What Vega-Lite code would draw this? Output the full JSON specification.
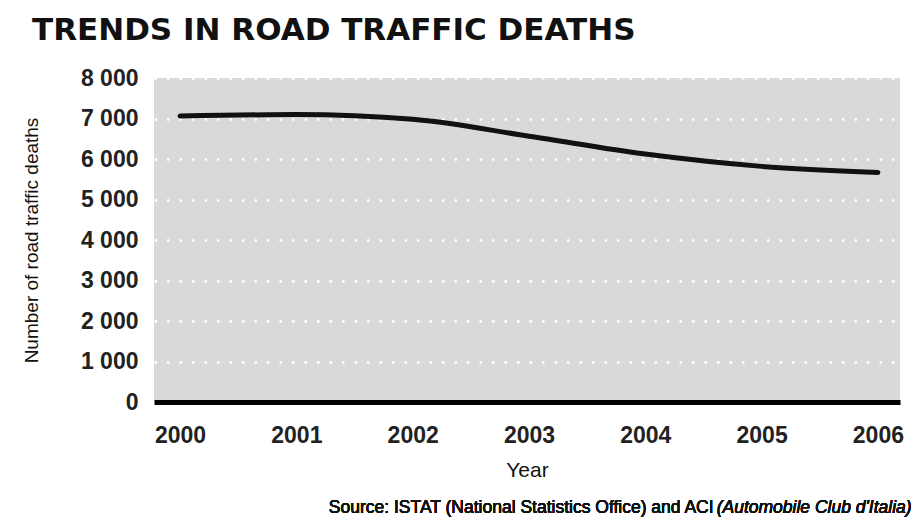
{
  "$schema": "https://vega.github.io/schema/vega-lite/v6.json",
  "width": 746,
  "height": 324,
  "autosize": {"type": "none"},
  "padding": {"left": 154, "top": 78, "right": 18, "bottom": 122},
  "background": "white",
  "title": {
    "text": "TRENDS IN ROAD TRAFFIC DEATHS",
    "anchor": "start",
    "frame": "group",
    "dx": -122,
    "offset": 20,
    "font": "DejaVu Sans",
    "fontSize": 31,
    "fontWeight": "bold",
    "color": "#111111"
  },
  "data": {
    "values": [
      {"year": 2000, "deaths": 7061},
      {"year": 2001, "deaths": 7096},
      {"year": 2002, "deaths": 6980},
      {"year": 2003, "deaths": 6563},
      {"year": 2004, "deaths": 6122},
      {"year": 2005, "deaths": 5818},
      {"year": 2006, "deaths": 5669}
    ]
  },
  "layer": [
    {
      "mark": {"type": "line", "interpolate": "monotone", "color": "#111111", "strokeWidth": 5, "strokeCap": "round"},
      "encoding": {
        "x": {
          "field": "year",
          "type": "quantitative",
          "scale": {"domain": [1999.776, 2006.19], "nice": false, "zero": false},
          "axis": {
            "values": [2000, 2001, 2002, 2003, 2004, 2005, 2006],
            "format": "d",
            "title": "Year",
            "grid": false,
            "ticks": false,
            "domain": true,
            "domainColor": "#000000",
            "domainWidth": 5,
            "labelFont": "Liberation Sans",
            "labelFontSize": 23,
            "labelFontWeight": "bold",
            "labelColor": "#222222",
            "labelPadding": 22,
            "titleFont": "Liberation Sans",
            "titleFontSize": 21,
            "titleFontWeight": "normal",
            "titleColor": "#111111",
            "titlePadding": 12
          }
        },
        "y": {
          "field": "deaths",
          "type": "quantitative",
          "scale": {"domain": [0, 8000], "nice": false},
          "axis": {
            "values": [0, 1000, 2000, 3000, 4000, 5000, 6000, 7000, 8000],
            "labelExpr": "replace(format(datum.value, ','), ',', ' ')",
            "title": "Number of road traffic deaths",
            "grid": true,
            "gridColor": "#ffffff",
            "gridWidth": 2.5,
            "gridDash": [2.5, 10],
            "gridOpacity": 1,
            "ticks": false,
            "domain": false,
            "labelFont": "Liberation Sans",
            "labelFontSize": 23,
            "labelFontWeight": "bold",
            "labelColor": "#222222",
            "labelPadding": 16,
            "titleFont": "Liberation Sans",
            "titleFontSize": 19,
            "titleFontWeight": "normal",
            "titleColor": "#111111",
            "titlePadding": 39
          }
        }
      }
    },
    {
      "mark": {"type": "text", "align": "right", "baseline": "middle", "dx": -198, "font": "Liberation Sans", "fontSize": 17.5, "color": "#111111"},
      "encoding": {
        "x": {"datum": 2006.29, "type": "quantitative"},
        "y": {"datum": -2617, "type": "quantitative"},
        "text": {"value": "Source: ISTAT (National Statistics Office) and ACI"}
      }
    },
    {
      "mark": {"type": "text", "align": "right", "baseline": "middle", "font": "Liberation Sans", "fontSize": 17.5, "fontStyle": "italic", "color": "#111111"},
      "encoding": {
        "x": {"datum": 2006.29, "type": "quantitative"},
        "y": {"datum": -2617, "type": "quantitative"},
        "text": {"value": "(Automobile Club d'Italia)"}
      }
    }
  ],
  "config": {
    "view": {"fill": "#d9d9d9", "stroke": null}
  }
}
